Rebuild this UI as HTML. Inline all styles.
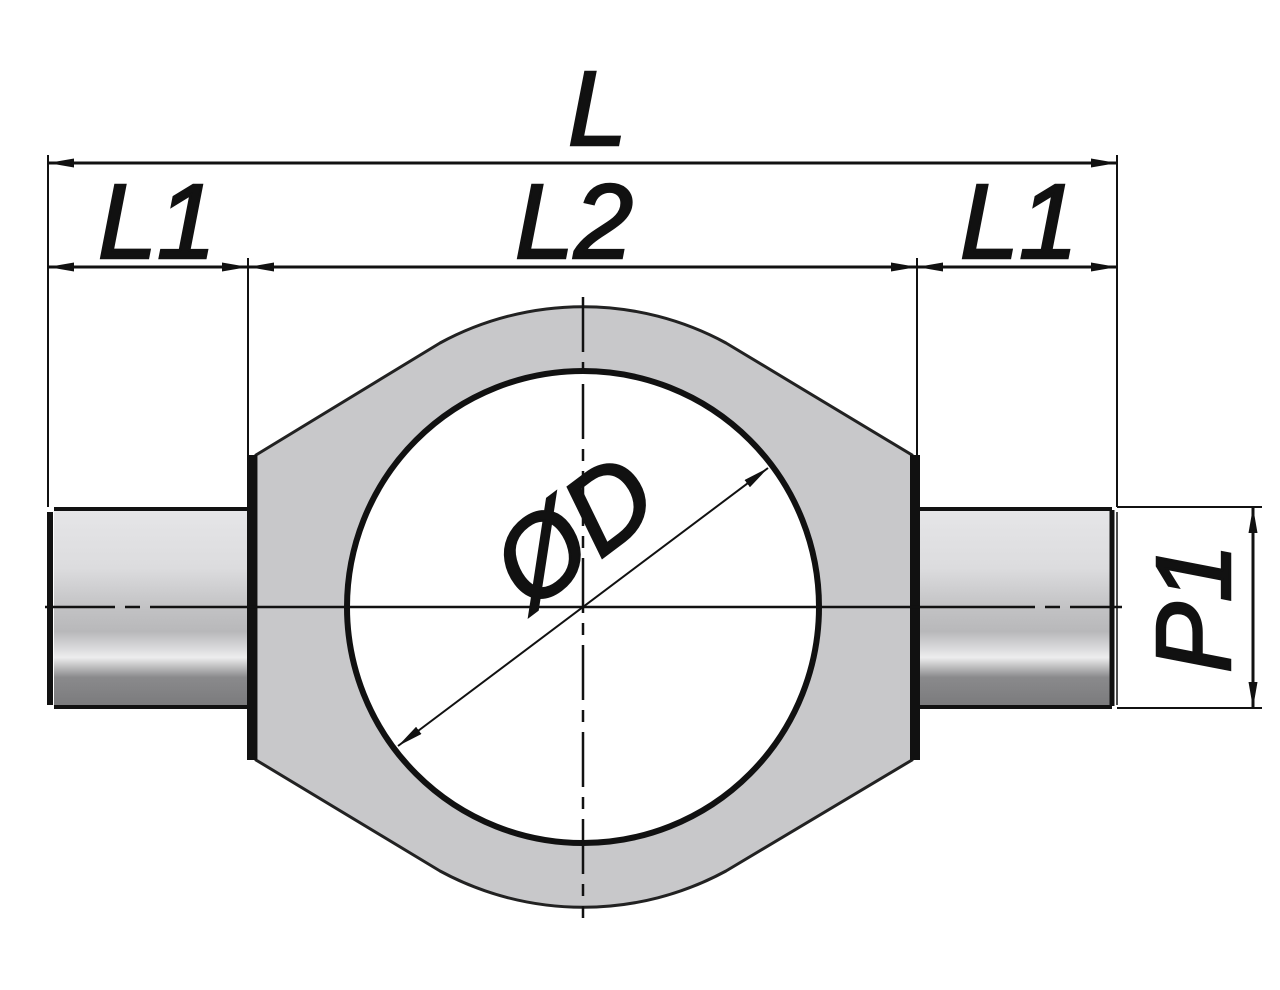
<!DOCTYPE html>
<html><head><style>
html,body{margin:0;padding:0;background:#fff;}
svg{display:block;}
text{font-family:"Liberation Sans",sans-serif;font-style:italic;fill:#111;stroke:#111;stroke-width:2.5;}
</style></head><body>
<svg width="1280" height="990" viewBox="0 0 1280 990" xmlns="http://www.w3.org/2000/svg">
<defs>
<linearGradient id="pin" x1="0" y1="0" x2="0" y2="1">
<stop offset="0" stop-color="#e6e6e8"/>
<stop offset="0.3" stop-color="#dcdcde"/>
<stop offset="0.5" stop-color="#c2c2c4"/>
<stop offset="0.62" stop-color="#b8b8ba"/>
<stop offset="0.75" stop-color="#ededee"/>
<stop offset="0.85" stop-color="#8a8a8c"/>
<stop offset="1" stop-color="#7a7a7c"/>
</linearGradient>
<marker id="a" viewBox="0 0 26 9" refX="26" refY="4.5" markerWidth="26" markerHeight="9" markerUnits="userSpaceOnUse" orient="auto-start-reverse"><path d="M0,0 L26,4.5 L0,9 Z" fill="#111"/></marker>
</defs>
<rect x="54" y="509" width="194" height="198" fill="url(#pin)"/>
<rect x="920" y="509" width="192" height="198" fill="url(#pin)"/>
<g stroke="#111" fill="none">
<path d="M54,509 H248 M54,707 H248" stroke-width="4"/>
<path d="M50,512 V705" stroke-width="6"/>
<path d="M920,509 H1112 M920,707 H1112" stroke-width="4"/>
<path d="M1112,510 V706" stroke-width="5"/>
<path d="M1117,512 V705" stroke-width="1.5"/>
</g>
<path d="M256,455 L440,343 A300,300 0 0 1 726,343 L912,455 L912,760 L726,871 A300,300 0 0 1 440,871 L256,760 Z" fill="#c8c8ca" stroke="#222" stroke-width="3"/>
<rect x="247" y="455" width="10" height="305" fill="#111"/>
<rect x="910" y="455" width="10" height="305" fill="#111"/>
<circle cx="583" cy="607" r="236" fill="#fff" stroke="#111" stroke-width="6"/>
<g stroke="#111" stroke-width="2.5" fill="none">
<path d="M583,297 V918" stroke-dasharray="55,10,12,10"/>
<path d="M160,607 H1010"/>
<path d="M45,607 H160" stroke-dasharray="70,10,15,10,30"/>
<path d="M1010,607 H1122" stroke-dasharray="25,10,15,10,70"/>
</g>
<g stroke="#111" stroke-width="2" fill="none">
<path d="M48,155 V507 M1117,155 V507 M248,258 V455 M917,258 V455 M1117,507 H1262 M1117,708 H1262"/>
<path d="M48,163 H1117" stroke-width="3" marker-start="url(#a)" marker-end="url(#a)"/>
<path d="M48,267 H248" stroke-width="3" marker-start="url(#a)" marker-end="url(#a)"/>
<path d="M248,267 H917" stroke-width="3" marker-start="url(#a)" marker-end="url(#a)"/>
<path d="M917,267 H1117" stroke-width="3" marker-start="url(#a)" marker-end="url(#a)"/>
<path d="M1253,507 V708" stroke-width="3" marker-start="url(#a)" marker-end="url(#a)"/>
<path d="M398,746 L768,468" stroke-width="2" marker-start="url(#a)" marker-end="url(#a)"/>
</g>
<text x="568" y="145" font-size="106">L</text>
<text x="98" y="258" font-size="106">L1</text>
<text x="515" y="258" font-size="106">L2</text>
<text x="960" y="258" font-size="106">L1</text>
<text transform="translate(1230,673) rotate(-90)" font-size="106">P1</text>
<text transform="translate(530,612) rotate(-37)" font-size="112">ØD</text>
</svg>
</body></html>
